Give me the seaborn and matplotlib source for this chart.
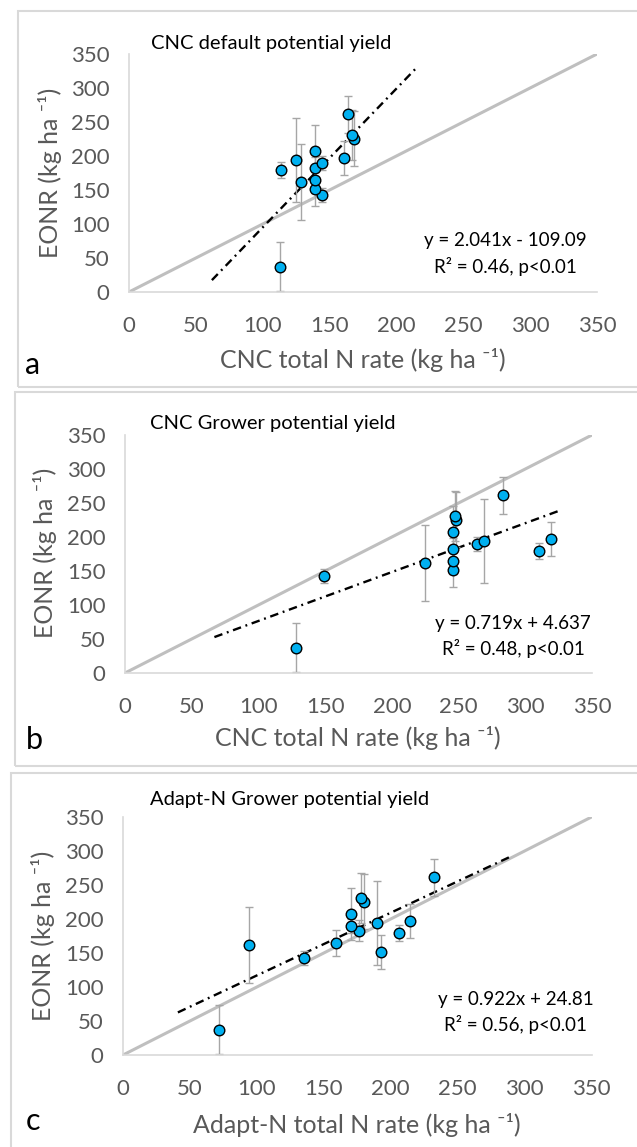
import numpy as np
import pandas as pd
import matplotlib
matplotlib.use("Agg")
import matplotlib.pyplot as plt
from matplotlib.patches import Rectangle
import seaborn as sns

# ----------------------------
# Data (one value per site)
# ----------------------------
eonr = [37.5, 143, 151, 162, 164.5, 179, 183, 190, 194, 197, 207.5, 225.5, 231, 261.5]
eonr_err = [36, 10, 25, 56, 19, 12, 15, 10, 62, 25, 38, 40, 37, 27]

cnc_default_n = [113, 144, 139, 128.5, 139, 114, 139, 144, 125, 161, 139, 168, 167, 164]
cnc_grower_n = [128, 149, 246, 225, 246, 310, 246, 264, 269, 319.5, 246, 248, 247, 283]
adaptn_grower_n = [72, 135, 192.6, 94, 159, 206, 176, 170.5, 189.6, 214.7, 170.5, 180, 178, 232]

panel_titles = ["CNC default potential yield", "CNC Grower potential yield",
                "Adapt-N Grower potential yield"]
panel_letters = ["a", "b", "c"]
x_labels = ["CNC total N rate (kg ha ⁻¹)", "CNC total N rate (kg ha ⁻¹)",
            "Adapt-N total N rate (kg ha ⁻¹)"]
y_label = "EONR (kg ha ⁻¹)"
slopes = [2.041, 0.719, 0.922]
intercepts = [-109.09, 4.637, 24.81]
fit_ranges = [(62, 216), (67, 326), (41, 290)]
eq_texts = ["y = 2.041x - 109.09", "y = 0.719x + 4.637", "y = 0.922x + 24.81"]
r2_texts = ["R² = 0.46, p<0.01", "R² = 0.48, p<0.01", "R² = 0.56, p<0.01"]
ticks = [0, 50, 100, 150, 200, 250, 300, 350]

# ----------------------------
# Layout (pixels of the 637x1147 image)
# ----------------------------
W, H = 637, 1147
axes_px = [(129, 54, 597, 292), (125, 435, 592, 673), (123, 817, 591.5, 1055)]
frames_px = [(18, 11, 640, 387), (15, 392, 640, 766), (11, 773, 640, 1150)]
title_px = [(151, 44), (150, 423), (150, 800)]
letter_px = [(33, 365), (34, 740), (33, 1121)]
xlab_px = [(363, 360), (358, 738), (357, 1125)]
ylab_px = [(50, 173), (45, 553), (43, 936)]
eq_px = [(505, 241, 267), (513, 623, 648), (516, 999, 1024)]

sns.set_style("white")
plt.rcParams["font.family"] = ["Lato", "DejaVu Sans"]

GRAY_TXT = "#595959"
GRAY_AX = "#d9d9d9"

fig = plt.figure(figsize=(W / 100, H / 100), dpi=100)


def fx(x):
    return x / W


def fy(y):
    return 1 - y / H


x_series = [cnc_default_n, cnc_grower_n, adaptn_grower_n]

for i in range(3):
    fx0, fy0, fx1, fy1 = frames_px[i]
    fig.patches.append(Rectangle((fx(fx0), fy(fy1)), fx(fx1) - fx(fx0), fy(fy0) - fy(fy1),
                                 transform=fig.transFigure, fill=False,
                                 edgecolor=GRAY_AX, linewidth=1.5, zorder=0))

    l, t, r, b = axes_px[i]
    ax = fig.add_axes([fx(l), fy(b), fx(r) - fx(l), fy(t) - fy(b)])
    ax.patch.set_alpha(0)

    df = pd.DataFrame({"N": x_series[i], "EONR": eonr, "err": eonr_err})

    # 1:1 line
    sns.lineplot(x=[0, 350], y=[0, 350], ax=ax, color="#bfbfbf", linewidth=2.2, zorder=1)

    # regression line
    x0, x1 = fit_ranges[i]
    xf = np.array([x0, x1])
    ax.plot(xf, slopes[i] * xf + intercepts[i], color="black", linewidth=1.7,
            dashes=(3.6, 2.0, 0.8, 2.0), zorder=2)

    ax.errorbar(df["N"], df["EONR"], yerr=df["err"], fmt="none", ecolor="#a6a6a6",
                elinewidth=1, capsize=3, capthick=1, zorder=2.5)
    sns.scatterplot(data=df, x="N", y="EONR", ax=ax, s=58, color="#00b0f0",
                    edgecolor="black", linewidth=1, zorder=3)

    ax.set_xlim(0, 350)
    ax.set_ylim(0, 350)
    ax.set_xticks(ticks)
    ax.set_yticks(ticks)
    ax.set_xlabel("")
    ax.set_ylabel("")
    for s in ["top", "right"]:
        ax.spines[s].set_visible(False)
    for s in ["left", "bottom"]:
        ax.spines[s].set_color(GRAY_AX)
        ax.spines[s].set_linewidth(1.2)
    ax.tick_params(axis="both", direction="out", length=6, width=1.2, color=GRAY_AX,
                   labelsize=16, labelcolor=GRAY_TXT)
    ax.tick_params(axis="x", pad=11)
    ax.tick_params(axis="y", pad=8)

    fig.text(fx(title_px[i][0]), fy(title_px[i][1]), panel_titles[i], fontsize=14.5,
             color="black", ha="left", va="center")
    fig.text(fx(letter_px[i][0]), fy(letter_px[i][1]), panel_letters[i], fontsize=22,
             color="black", ha="center", va="center")
    fig.text(fx(xlab_px[i][0]), fy(xlab_px[i][1]), x_labels[i], fontsize=18,
             color=GRAY_TXT, ha="center", va="center")
    fig.text(fx(ylab_px[i][0]), fy(ylab_px[i][1]), y_label, fontsize=18,
             color=GRAY_TXT, ha="center", va="center", rotation=90)
    ex, ey1, ey2 = eq_px[i]
    fig.text(fx(ex), fy(ey1), eq_texts[i], fontsize=13.5, color="black", ha="center", va="center")
    fig.text(fx(ex), fy(ey2), r2_texts[i], fontsize=13.5, color="black", ha="center", va="center")

fig.savefig("out.png", dpi=100)
